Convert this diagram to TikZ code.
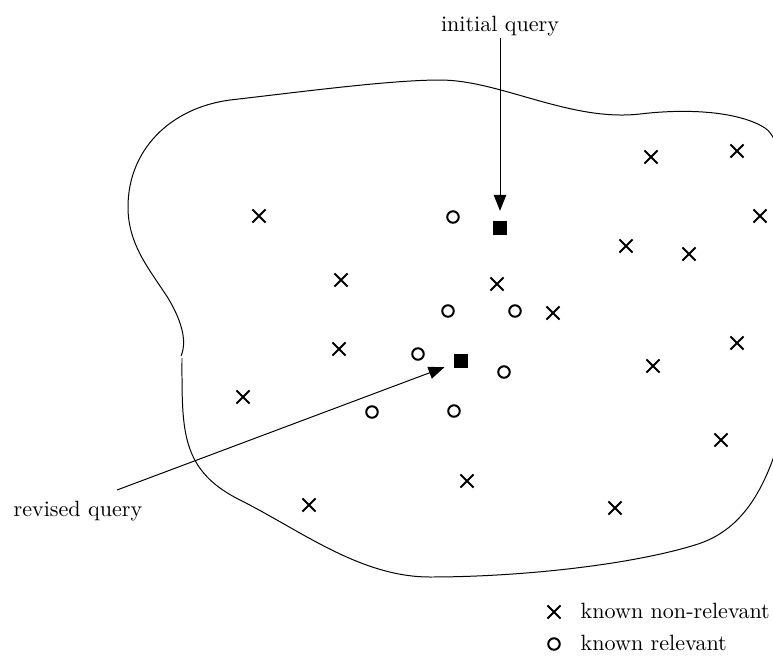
\documentclass[tikz,border=0pt]{standalone}
\usetikzlibrary{arrows.meta,shapes.misc}

\tikzset{
  nonrel/.style={cross out, draw, line width=0.9pt, minimum size=5pt, inner sep=0pt},
  rel/.style={circle, draw, line width=0.9pt, minimum size=5.2pt, inner sep=0pt},
  qpoint/.style={rectangle, fill=black, minimum size=6.3pt, inner sep=0pt},
  pointer/.style={line width=0.45pt, -{Triangle[length=7.2pt,width=5.6pt]}, shorten >=4.4pt},
  label/.style={inner sep=1pt, font=\normalsize},
  region/.style={line width=0.45pt}
}

\begin{document}
\begin{tikzpicture}[x=0.4525pt, y=-0.4525pt]
  \useasboundingbox (0,0) rectangle (773,664);
  \begin{scope}
    \clip (0,0) rectangle (773,664);
    % outline of the document collection
    \draw[region] (182,358)
      .. controls (182,430) and (180,470) .. (240,500)
      .. controls (300,530) and (360,577) .. (430,577)
      .. controls (520,577) and (630,565) .. (695,545)
      .. controls (745,530) and (768,485) .. (785,420)
      .. controls (800,362) and (800,150) .. (765,128)
      .. controls (740,112) and (690,108) .. (640,114)
      .. controls (570,122) and (500,80) .. (440,80)
      .. controls (390,80) and (300,92) .. (230,100)
      .. controls (170,108) and (128,150) .. (128,207)
      .. controls (128,245) and (150,270) .. (168,298)
      .. controls (180,318) and (188,340) .. (181,356);
  \end{scope}

  % known non-relevant documents
  \node[nonrel] (n1)  at (259,216) {};
  \node[nonrel] (n2)  at (341,280) {};
  \node[nonrel] (n3)  at (339,349) {};
  \node[nonrel] (n4)  at (243,397) {};
  \node[nonrel] (n5)  at (309,505) {};
  \node[nonrel] (n6)  at (497,284) {};
  \node[nonrel] (n7)  at (553,313) {};
  \node[nonrel] (n8)  at (467,481) {};
  \node[nonrel] (n9)  at (615,508) {};
  \node[nonrel] (n10) at (651,157) {};
  \node[nonrel] (n11) at (737,151) {};
  \node[nonrel] (n12) at (760,216) {};
  \node[nonrel] (n13) at (626,246) {};
  \node[nonrel] (n14) at (689,254) {};
  \node[nonrel] (n15) at (737,343) {};
  \node[nonrel] (n16) at (653,366) {};
  \node[nonrel] (n17) at (721,440) {};

  % known relevant documents
  \node[rel] (r1) at (453,217) {};
  \node[rel] (r2) at (448,311) {};
  \node[rel] (r3) at (515,311) {};
  \node[rel] (r4) at (418,354) {};
  \node[rel] (r5) at (504,372) {};
  \node[rel] (r6) at (372,412) {};
  \node[rel] (r7) at (454,411) {};

  % queries
  \node[qpoint] (q0) at (500,228) {};
  \node[qpoint] (q1) at (461,361) {};

  \node[label, anchor=base] (iq) at (500,31) {initial query};
  \node[label, anchor=base west] (rq) at (11,516) {revised query};
  \coordinate (rqs) at (117,490);

  \draw[pointer] (iq.south) -- (q0.north);
  \draw[pointer] (rqs) -- (q1);

  % legend
  \node[nonrel] (ln) at (554,612) {};
  \node[label, anchor=base west] (lnt) at (578,618) {known non-relevant};
  \node[rel] (lr) at (554,644) {};
  \node[label, anchor=base west] (lrt) at (578,650) {known relevant};
\end{tikzpicture}
\end{document}
